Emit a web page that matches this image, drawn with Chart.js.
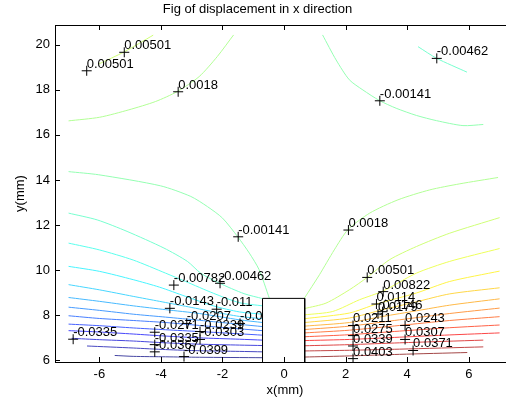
<!DOCTYPE html>
<html>
<head>
<meta charset="utf-8">
<title>Fig of displacement in x direction</title>
<script src="https://cdn.jsdelivr.net/npm/chart.js"></script>
<style>
  html, body { margin: 0; padding: 0; background: #fff; overflow: hidden; }
  #wrap { width: 570px; height: 399px; }
</style>
</head>
<body>
<div id="wrap"><canvas id="chart" width="570" height="399"></canvas></div>
<script>
// contour levels (jet colormap from min to max)
const levels = [-0.0399, -0.0367, -0.0335, -0.0303, -0.0271, -0.0239, -0.0207, -0.0175,
  -0.0143, -0.011, -0.00782, -0.00462, -0.00141, 0.0018, 0.00501, 0.00822, 0.0114,
  0.0146, 0.0179, 0.0211, 0.0243, 0.0275, 0.0307, 0.0339, 0.0371, 0.0403];

// level index of every contour piece, and its points [x, y] in mm
const contourLevel = [14, 13, 12, 11, 12, 11, 13,
  14, 15, 16, 17, 18, 19, 20, 21, 22, 23, 24, 25,
  10, 9, 8, 7, 6, 5, 4, 3, 2, 1, 0];
const contourPts = [
  [[-6.02, 19.14], [-5.19, 19.68], [-4.25, 20.42]],
  [[-7.0, 16.62], [-5.99, 16.78], [-5.04, 17.11], [-4.17, 17.48], [-3.47, 17.92], [-2.76, 18.58], [-2.17, 19.47], [-1.64, 20.43]],
  [[-7.0, 14.37], [-6.02, 14.23], [-4.01, 13.74], [-3.03, 13.27], [-2.49, 12.82], [-2.0, 12.31], [-1.51, 11.49], [-1.13, 10.76], [-0.81, 10.02], [-0.48, 8.76]],
  [[-7.0, 12.53], [-6.07, 12.23], [-5.1, 11.72], [-3.9, 10.98], [-3.14, 10.39], [-2.71, 9.87], [-2.11, 9.43], [-1.3, 8.96], [-0.7, 8.74]],
  [[1.25, 20.43], [1.69, 19.32], [2.12, 18.44], [2.56, 17.99], [3.1, 17.52], [3.64, 17.18], [4.3, 16.86], [4.95, 16.63], [5.81, 16.41], [6.47, 16.46]],
  [[4.35, 19.91], [4.96, 19.39], [5.94, 18.78]],
  [[0.66, 8.76], [1.15, 9.8], [1.63, 10.9], [2.07, 11.79], [2.78, 12.53], [3.7, 13.12], [4.73, 13.56], [5.71, 13.83], [6.95, 14.11]],
  [[0.67, 8.3], [1.36, 8.54], [2.12, 9.13], [2.7, 9.68], [3.42, 10.46], [4.3, 11.05], [5.38, 11.64], [7.0, 12.33]],
  [[0.67, 8.02], [1.58, 8.17], [2.45, 8.69], [3.22, 9.08], [4.3, 9.87], [5.38, 10.39], [7.0, 10.96]],
  [[0.67, 7.85], [2.12, 8.1], [3.0, 8.5], [4.3, 8.99], [5.38, 9.5], [7.0, 9.96]],
  [[0.67, 7.68], [2.12, 7.88], [3.21, 8.25], [4.3, 8.6], [5.38, 8.95], [7.0, 9.22]],
  [[0.67, 7.52], [2.12, 7.68], [3.21, 7.95], [4.3, 8.2], [5.38, 8.45], [7.0, 8.73]],
  [[0.67, 7.37], [2.12, 7.52], [3.75, 7.8], [5.38, 8.08], [7.0, 8.32]],
  [[0.67, 7.22], [2.12, 7.34], [3.75, 7.55], [5.38, 7.77], [7.0, 7.94]],
  [[0.67, 7.05], [2.12, 7.14], [3.75, 7.3], [5.38, 7.45], [7.0, 7.57]],
  [[0.67, 6.88], [2.12, 6.93], [3.75, 7.03], [5.38, 7.13], [7.0, 7.22]],
  [[0.67, 6.65], [2.12, 6.7], [3.75, 6.78], [6.47, 6.9]],
  [[0.67, 6.42], [2.12, 6.45], [3.75, 6.5], [6.47, 6.6]],
  [[0.67, 6.15], [2.12, 6.2], [3.75, 6.27], [5.95, 6.35]],
  [[-7.0, 11.2], [-6.0, 10.9], [-4.9, 10.45], [-3.85, 9.87], [-3.2, 9.5], [-2.3, 8.98], [-1.45, 8.56], [-0.7, 8.42]],
  [[-7.0, 10.17], [-6.0, 9.95], [-4.9, 9.58], [-4.05, 9.25], [-3.2, 8.84], [-2.3, 8.42], [-1.45, 8.15], [-0.7, 8.05]],
  [[-7.0, 9.36], [-6.0, 9.13], [-4.9, 8.84], [-4.05, 8.62], [-3.2, 8.4], [-2.3, 8.16], [-1.45, 7.95], [-0.7, 7.85]],
  [[-7.0, 8.79], [-6.0, 8.62], [-4.9, 8.42], [-3.85, 8.25], [-2.75, 8.08], [-1.45, 7.8], [-0.7, 7.68]],
  [[-7.0, 8.36], [-6.0, 8.22], [-4.9, 8.05], [-3.85, 7.92], [-2.75, 7.78], [-1.45, 7.6], [-0.7, 7.5]],
  [[-7.0, 7.98], [-6.0, 7.86], [-4.9, 7.77], [-3.85, 7.68], [-2.75, 7.55], [-1.45, 7.4], [-0.7, 7.32]],
  [[-7.0, 7.61], [-6.0, 7.54], [-4.9, 7.44], [-3.85, 7.36], [-2.75, 7.28], [-1.45, 7.18], [-0.7, 7.12]],
  [[-7.0, 7.32], [-6.0, 7.26], [-4.9, 7.17], [-3.85, 7.08], [-2.75, 7.0], [-1.45, 6.94], [-0.7, 6.9]],
  [[-6.9, 6.98], [-6.0, 6.92], [-4.9, 6.86], [-3.85, 6.78], [-2.75, 6.72], [-1.45, 6.68], [-0.7, 6.66]],
  [[-6.4, 6.64], [-4.9, 6.55], [-3.85, 6.48], [-2.75, 6.43], [-1.45, 6.4], [-0.7, 6.38]],
  [[-5.5, 6.22], [-4.9, 6.18], [-3.85, 6.16], [-2.75, 6.14], [-0.7, 6.12]]
];

// clabel marks: text and "+" position
const labelText = ['0.00501', '0.00501', '0.0018', '-0.00462', '-0.00141', '-0.00141', '0.0018',
  '0.00501', '0.00822', '0.0114', '0.0146', '0.0179', '0.0211', '0.0243', '0.0275', '0.0307',
  '0.0339', '0.0371', '0.0403', '-0.0335', '-0.00782', '-0.00462', '-0.0143', '-0.011', '-0.0207',
  '-0.0175', '-0.0271', '-0.0239', '-0.0303', '-0.0335', '-0.0367', '-0.0399'];
const labelX = [-6.41, -5.19, -3.44, 4.96, 3.11, -1.49, 2.09,
  2.7, 3.22, 3.0, 3.2, 3.05, 2.24, 3.93, 2.24, 3.93,
  2.24, 4.19, 2.24, -6.85, -3.58, -2.08, -3.71, -2.19, -3.16,
  -1.43, -4.2, -2.73, -2.73, -4.2, -4.2, -3.25];
const labelY = [18.84, 19.66, 17.91, 19.39, 17.51, 11.48, 11.78,
  9.68, 9.05, 8.5, 8.16, 8.06, 7.55, 7.55, 7.1, 6.93,
  6.64, 6.44, 6.08, 6.94, 9.34, 9.42, 8.31, 8.27, 7.64,
  7.64, 7.25, 7.28, 6.93, 6.7, 6.38, 6.17];

// the block in the middle (x from, x to, top)
const blockX = [-0.7, 0.67];
const blockTop = 8.75;

const xTicks = [-6, -4, -2, 0, 2, 4, 6];
const yTicks = [6, 8, 10, 12, 14, 16, 18, 20];
const xRange = [-7.44, 7.5];
const yRange = [5.93, 20.87];

// jet colour, washed a little toward white like the thin lines in the picture
function jet(t) {
  const c = v => Math.round(255 - 0.72 * (255 - 255 * Math.max(0, Math.min(1, v))));
  return 'rgb(' + c(1.5 - Math.abs(4 * t - 3)) + ',' + c(1.5 - Math.abs(4 * t - 2)) + ',' + c(1.5 - Math.abs(4 * t - 1)) + ')';
}
const lo = levels[0], hi = levels[levels.length - 1];

const datasets = [];
// 0: block, drawn last (on top)
datasets.push({
  data: [{x: blockX[0], y: yRange[0]}, {x: blockX[0], y: blockTop}, {x: blockX[1], y: blockTop}, {x: blockX[1], y: yRange[0]}],
  borderColor: '#000', borderWidth: 1, backgroundColor: '#fff', fill: 'start', pointRadius: 0, tension: 0
});
// 1: the "+" marks
datasets.push({
  data: labelX.map((x, i) => ({x: x, y: labelY[i]})),
  showLine: false, pointStyle: 'cross', pointRadius: 5, borderColor: '#000', borderWidth: 1
});
contourPts.forEach((pts, i) => {
  datasets.push({
    data: pts.map(p => ({x: p[0], y: p[1]})),
    borderColor: jet((levels[contourLevel[i]] - lo) / (hi - lo)),
    borderWidth: 1, pointRadius: 0, fill: false, tension: 0.25
  });
});

const FONT = '"Liberation Sans", Arial, sans-serif';

const frame = {
  id: 'frame',
  beforeDatasetDraw(chart, args) {
    if (args.index !== 1) return;
    const {ctx, scales: {x, y}} = chart;
    ctx.save();
    ctx.font = '13px ' + FONT;
    ctx.fillStyle = '#000';
    ctx.textAlign = 'left';
    ctx.textBaseline = 'alphabetic';
    labelText.forEach((t, i) => {
      ctx.fillText(t, x.getPixelForValue(labelX[i]), y.getPixelForValue(labelY[i]) - 3);
    });
    ctx.restore();
  },
  afterDraw(chart) {
    const {ctx, chartArea: a, scales: {x, y}} = chart;
    ctx.save();
    ctx.strokeStyle = '#000';
    ctx.lineWidth = 1;
    ctx.strokeRect(a.left + 0.5, a.top + 0.5, a.right - a.left, a.bottom - a.top);
    ctx.beginPath();
    xTicks.forEach(v => {
      const px = Math.round(x.getPixelForValue(v)) + 0.5;
      ctx.moveTo(px, a.bottom); ctx.lineTo(px, a.bottom - 5);
      ctx.moveTo(px, a.top); ctx.lineTo(px, a.top + 5);
    });
    yTicks.forEach(v => {
      const py = Math.round(y.getPixelForValue(v)) + 0.5;
      ctx.moveTo(a.left, py); ctx.lineTo(a.left + 5, py);
      ctx.moveTo(a.right, py); ctx.lineTo(a.right - 5, py);
    });
    ctx.stroke();
    ctx.restore();
  }
};

Chart.defaults.font.family = FONT;
Chart.defaults.font.size = 13;
Chart.defaults.color = '#000';

new Chart(document.getElementById('chart').getContext('2d'), {
  type: 'line',
  data: {datasets: datasets},
  options: {
    responsive: false,
    animation: false,
    layout: {padding: {left: 0, right: 55, top: 0, bottom: 0}},
    plugins: {
      legend: {display: false},
      tooltip: {enabled: false},
      title: {
        display: true,
        text: 'Fig of displacement in x direction',
        font: {size: 13, weight: 'normal'},
        color: '#000',
        padding: {top: 2, bottom: 7.4}
      }
    },
    scales: {
      x: {
        type: 'linear',
        min: xRange[0], max: xRange[1],
        afterBuildTicks: s => { s.ticks = xTicks.map(v => ({value: v})); },
        afterFit: s => { s.height = 37; },
        grid: {display: false, drawTicks: false},
        border: {display: false},
        ticks: {padding: 5, maxRotation: 0, autoSkip: false, callback: v => String(v)},
        title: {display: true, text: 'x(mm)', padding: {top: 0, bottom: 1}}
      },
      y: {
        type: 'linear',
        min: yRange[0], max: yRange[1],
        afterBuildTicks: s => { s.ticks = yTicks.map(v => ({value: v})); },
        afterFit: s => { s.width = 55; },
        grid: {display: false, drawTicks: false},
        border: {display: false},
        ticks: {padding: 5, autoSkip: false, callback: v => String(v)},
        title: {display: true, text: 'y(mm)', padding: {top: 13, bottom: 0}}
      }
    }
  },
  plugins: [frame]
});
</script>
</body>
</html>
